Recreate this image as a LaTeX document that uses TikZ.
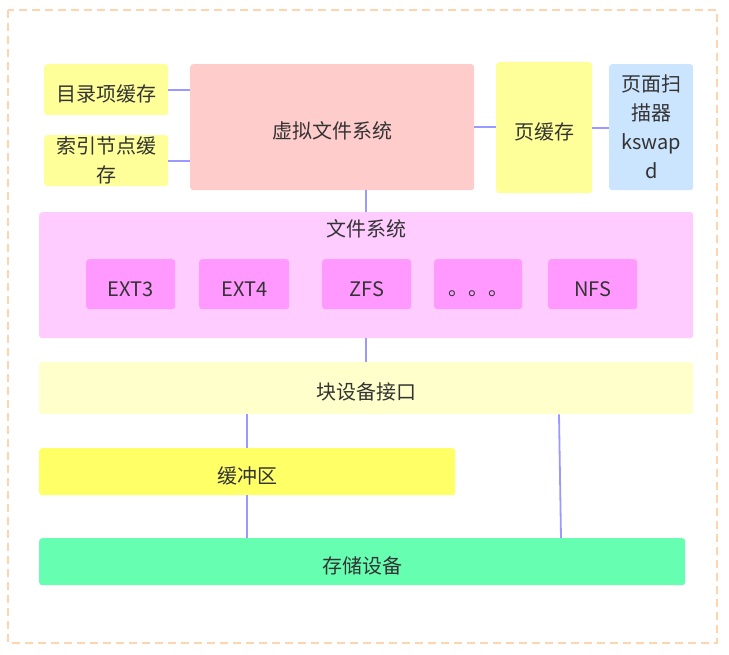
\documentclass[tikz,border=0pt]{standalone}
\usepackage{fontspec}
\setmainfont{Noto Sans CJK SC}
\definecolor{txt}{HTML}{333333}
\definecolor{cvfs}{HTML}{FFCCCC}
\definecolor{cyel}{HTML}{FFFF99}
\definecolor{cblue}{HTML}{CCE5FF}
\definecolor{cfs}{HTML}{FFCCFF}
\definecolor{csub}{HTML}{FF99FF}
\definecolor{cblk}{HTML}{FFFFCC}
\definecolor{cbuf}{HTML}{FFFF66}
\definecolor{cstore}{HTML}{66FFB2}
\definecolor{cline}{HTML}{9999FF}
\definecolor{cframe}{HTML}{FFD5B0}
\begin{document}
\begin{tikzpicture}[x=1pt,y=-1pt,
  box/.style={rounded corners=3pt, inner sep=0pt, anchor=north west, text=txt,
    font=\fontsize{20}{29}\selectfont, align=center, draw=none,
    execute at begin node={\rule{0pt}{24.5pt}}},
  conn/.style={draw=cline, line width=1.8pt},
  lbl/.style={inner sep=0pt, text=txt, font=\fontsize{20}{29}\selectfont}]
\useasboundingbox (0,0) rectangle (729,654);
\draw[cframe, line width=1.2pt, dash pattern=on 8pt off 5pt] (8,10) rectangle (717,643);

\node[box, fill=cyel, minimum width=124pt, minimum height=51pt] (dentry) at (44,64) {目录项缓存};
\node[box, fill=cyel, minimum width=124pt, minimum height=51pt] (inode) at (44,135) {索引节点缓\\存};
\node[box, fill=cvfs, minimum width=284pt, minimum height=126pt] (vfs) at (190,64) {虚拟文件系统};
\node[box, fill=cyel, minimum width=96pt, minimum height=131pt] (pcache) at (496,62) {页缓存};
\node[box, fill=cblue, minimum width=84pt, minimum height=126pt] (kswapd) at (609,64) {页面扫\\描器\\kswap\\d};

\node[box, fill=cfs, minimum width=654pt, minimum height=126pt] (fs) at (39,212) {};
\node[lbl] (fstitle) at (366,229) {文件系统};
\node[box, fill=csub, minimum width=89pt, minimum height=50pt] (ext3) at (86,259) {EXT3};
\node[box, fill=csub, minimum width=90pt, minimum height=50pt] (ext4) at (199,259) {EXT4};
\node[box, fill=csub, minimum width=89pt, minimum height=50pt] (zfs) at (322,259) {ZFS};
\node[box, fill=csub, minimum width=88pt, minimum height=50pt] (dots) at (434,259) {。。。};
\node[box, fill=csub, minimum width=89pt, minimum height=50pt] (nfs) at (548,259) {NFS};

\node[box, fill=cblk, minimum width=654pt, minimum height=52pt] (blk) at (39,362) {块设备接口};
\node[box, fill=cbuf, minimum width=416pt, minimum height=47pt] (buf) at (39,448) {缓冲区};
\node[box, fill=cstore, minimum width=646pt, minimum height=47pt] (store) at (39,538) {存储设备};

\draw[conn] (dentry.east) -- (vfs.west |- dentry.east);
\draw[conn] (inode.east) -- (vfs.west |- inode.east);
\draw[conn] (vfs.east) -- (pcache.west |- vfs.east);
\draw[conn] (pcache.east) -- (kswapd.west |- pcache.east);
\draw[conn] (fs.north) -- (fs.north |- vfs.south);
\draw[conn] (fs.south) -- (blk.north);
\draw[conn] (buf.north) -- (buf.north |- blk.south);
\draw[conn] (buf.south) -- (buf.south |- store.north);
\draw[conn] ([xshift=520pt]blk.south west) -- ([xshift=522pt]store.north west);
\end{tikzpicture}
\end{document}
